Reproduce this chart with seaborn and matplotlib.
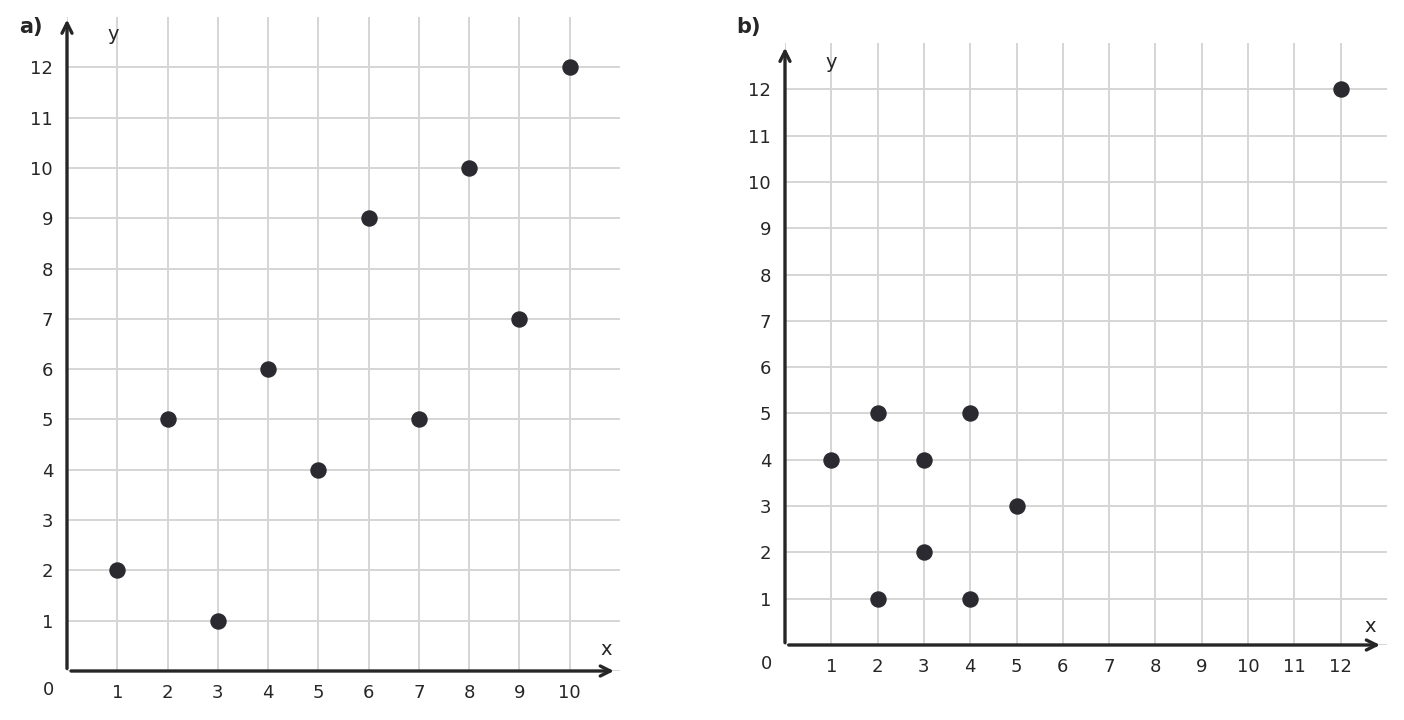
import matplotlib
matplotlib.use("Agg")
import matplotlib.pyplot as plt
import seaborn as sns
import pandas as pd

sns.set_theme(style="white")
plt.rcParams['font.family'] = ['DejaVu Sans']

# Panel a data
a_x = [1, 2, 3, 4, 5, 6, 7, 8, 9, 10]
a_y = [2, 5, 1, 6, 4, 9, 5, 10, 7, 12]
# Panel b data
b_x = [1, 2, 2, 3, 3, 4, 4, 5, 12]
b_y = [4, 5, 1, 4, 2, 5, 1, 3, 12]

a_xticks = list(range(1, 11))
a_yticks = list(range(1, 13))
b_xticks = list(range(1, 13))
b_yticks = list(range(1, 13))

DARK = "#262626"
DOT = "#2a2a30"
GRID = "#d5d5d5"

fig = plt.figure(figsize=(14.04, 7.2), dpi=100)
ax_a = fig.add_axes([67/1404, 49/720, 553/1404, 654/720])
ax_b = fig.add_axes([785/1404, 75/720, 602/1404, 602/720])


def style(ax, xs, ys, xticks, yticks, xmax, ymax, xarrow, yarrow, xlab, ylab, tag, tagpos):
    df = pd.DataFrame({"x": xs, "y": ys})
    ax.set_xlim(0, xmax)
    ax.set_ylim(0, ymax)
    # grid lines (no lines on the top and right edges)
    for gx in range(0, int(xmax)):
        ax.axvline(gx, color=GRID, lw=1.4, zorder=0)
    for gy in range(0, int(ymax)):
        ax.axhline(gy, color=GRID, lw=1.4, zorder=0)
    sns.scatterplot(data=df, x="x", y="y", ax=ax, s=140, color=DOT,
                    edgecolor=DOT, linewidth=0, zorder=5, clip_on=False)
    for sp in ax.spines.values():
        sp.set_visible(False)
    ax.set_xticks(xticks)
    ax.set_yticks(yticks)
    ax.set_xticklabels([str(t) for t in xticks])
    ax.set_yticklabels([str(t) for t in yticks])
    ax.tick_params(axis="both", direction="in", length=5, width=2, color=DARK,
                   labelsize=13, labelcolor=DARK)
    ax.tick_params(axis="x", pad=9)
    ax.tick_params(axis="y", pad=10)
    ax.set_xlabel("")
    ax.set_ylabel("")
    ax.grid(False)
    # axis arrows
    ax.annotate("", xy=(xarrow, 0), xytext=(0.08, 0),
                arrowprops=dict(arrowstyle="->,head_length=0.6,head_width=0.3",
                                color=DARK, lw=2.4, shrinkA=0, shrinkB=0),
                annotation_clip=False, zorder=6)
    ax.annotate("", xy=(0, yarrow), xytext=(0, 0.05),
                arrowprops=dict(arrowstyle="->,head_length=0.6,head_width=0.3",
                                color=DARK, lw=2.4, shrinkA=0, shrinkB=0),
                annotation_clip=False, zorder=6)
    ax.annotate("0", xy=(0, 0), xytext=(-19, -19), textcoords="offset pixels",
                ha="center", va="center", fontsize=13, color=DARK, annotation_clip=False)
    ax.text(xlab[0], xlab[1], "x", ha="center", va="center", fontsize=14, color=DARK)
    ax.text(ylab[0], ylab[1], "y", ha="center", va="center", fontsize=14, color=DARK)
    fig.text(tagpos[0] / 1404, 1 - tagpos[1] / 720, tag, ha="center", va="center",
             fontsize=15, fontweight="bold", color=DARK)


style(ax_a, a_x, a_y, a_xticks, a_yticks, 11, 13, 10.88, 12.95,
      (10.72, 0.42), (0.92, 12.65), "a)", (31, 27))
style(ax_b, b_x, b_y, b_xticks, b_yticks, 13, 13, 12.85, 12.9,
      (12.63, 0.41), (0.99, 12.58), "b)", (749, 27))

fig.savefig("out.png", dpi=100)
